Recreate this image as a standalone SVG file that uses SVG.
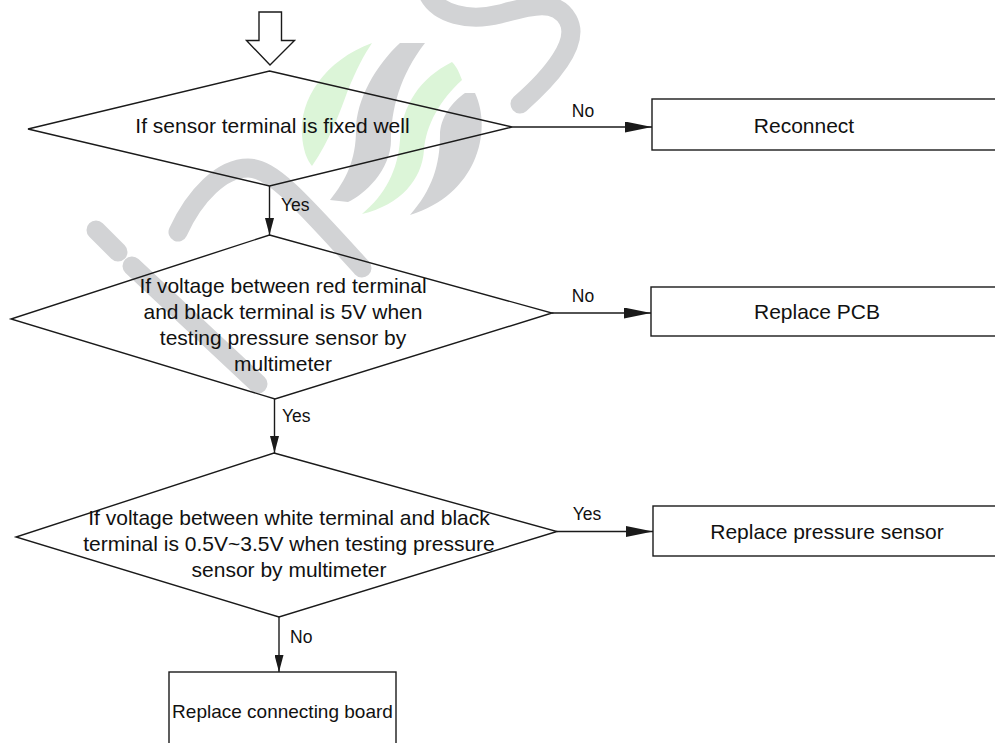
<svg xmlns="http://www.w3.org/2000/svg" width="995" height="743" viewBox="0 0 995 743">
<style>
.shape{fill:none;stroke:#1a1a1a;stroke-width:1.4}
.line{fill:none;stroke:#1a1a1a;stroke-width:1.4}
.t{font-family:"Liberation Sans",Arial,sans-serif;font-size:21px;fill:#111;text-anchor:middle}
.lbl{font-family:"Liberation Sans",Arial,sans-serif;font-size:17.5px;fill:#111}
.wmg{fill:none;stroke:#d2d3d5;stroke-width:19;stroke-linecap:round}
.wmgf{fill:#d2d3d5}
.wmgr{fill:#dcf5d8}
</style>
<defs>
<marker id="ah" viewBox="0 0 27 11" refX="27" refY="5.5" markerWidth="27" markerHeight="11" markerUnits="userSpaceOnUse" orient="auto">
<path d="M0,0 L27,5.5 L0,11 Z" fill="#1a1a1a"/>
</marker>
<marker id="av" viewBox="0 0 17 9" refX="17" refY="4.5" markerWidth="17" markerHeight="9" markerUnits="userSpaceOnUse" orient="auto">
<path d="M0,0 L17,4.5 L0,9 Z" fill="#1a1a1a"/>
</marker>
</defs>
<rect width="995" height="743" fill="#fff"/>
<g id="watermark">
<path class="wmg" d="M428,-6 C438,14 468,22 500,14 C530,6 556,-2 568,20 C580,42 552,76 520,104"/>
<path class="wmg" d="M96,230 L118,252"/>
<path class="wmg" d="M132,266 L258,384"/>
<path class="wmg" d="M178,232 C195,195 222,168 248,168 C272,168 300,200 362,268"/>
<path class="wmgr" d="M372,43 C325,60 299,100 302,135 C303,150 307,160 312,166 C330,140 340,112 348,90 C356,70 364,55 372,43 Z"/>
<path class="wmgf" d="M400,43 L425,43 C400,75 391,110 391,140 C391,170 364,195 348,202 L330,200 C346,180 356,160 356,130 C356,100 376,65 400,43 Z"/>
<path class="wmgr" d="M452,62 C458,68 460,75 462,80 C440,100 426,125 424,150 C422,180 400,205 362,214 C385,195 398,170 400,140 C402,105 420,78 452,62 Z"/>
<path class="wmgf" d="M465,93 L475,93 C493,132 476,195 410,215 C432,190 440,165 440,135 C440,118 452,102 465,93 Z"/>
</g>
<g id="start">
<polygon class="shape" points="259,12 281.5,12 281.5,40.5 294.5,40.5 270,65 246.5,40.5 259,40.5"/>
</g>
<g id="d1">
<polygon class="shape" points="269.5,71 512,127 269.5,186 28,129"/>
<text class="t" x="272.5" y="133">If sensor terminal is fixed well</text>
</g>
<g id="d2">
<polygon class="shape" points="269.5,235 552,313 275,399 11,319"/>
<text class="t" x="283" y="293">If voltage between red terminal</text>
<text class="t" x="283" y="319">and black terminal is 5V when</text>
<text class="t" x="283" y="345">testing pressure sensor by</text>
<text class="t" x="283" y="371">multimeter</text>
</g>
<g id="d3">
<polygon class="shape" points="274,453 557,531.5 279,617 16,537"/>
<text class="t" x="289" y="525">If voltage between white terminal and black</text>
<text class="t" x="289" y="551">terminal is 0.5V~3.5V when testing pressure</text>
<text class="t" x="289" y="577">sensor by multimeter</text>
</g>
<g id="b1">
<rect class="shape" x="652" y="99" width="360" height="51"/>
<text class="t" x="804" y="133">Reconnect</text>
</g>
<g id="b2">
<rect class="shape" x="651" y="287" width="360" height="49"/>
<text class="t" x="817" y="319">Replace PCB</text>
</g>
<g id="b3">
<rect class="shape" x="653" y="506" width="360" height="50"/>
<text class="t" x="827" y="539">Replace pressure sensor</text>
</g>
<g id="b4">
<rect class="shape" x="169" y="672" width="227" height="90"/>
<text class="t" x="282.5" y="718" style="font-size:19px">Replace connecting board</text>
</g>
<g id="connectors">
<line class="line" x1="269.5" y1="186" x2="269.5" y2="235" marker-end="url(#av)"/>
<line class="line" x1="274.5" y1="399" x2="274.5" y2="453" marker-end="url(#av)"/>
<line class="line" x1="279" y1="617" x2="279" y2="672" marker-end="url(#av)"/>
<line class="line" x1="512" y1="127" x2="652" y2="127" marker-end="url(#ah)"/>
<line class="line" x1="552" y1="313" x2="651" y2="313" marker-end="url(#ah)"/>
<line class="line" x1="557" y1="531.5" x2="653" y2="531.5" marker-end="url(#ah)"/>
<text class="lbl" x="281" y="211">Yes</text>
<text class="lbl" x="282" y="422">Yes</text>
<text class="lbl" x="290" y="643">No</text>
<text class="lbl" x="583" y="117" text-anchor="middle">No</text>
<text class="lbl" x="583" y="302" text-anchor="middle">No</text>
<text class="lbl" x="587" y="520" text-anchor="middle">Yes</text>
</g>
</svg>
